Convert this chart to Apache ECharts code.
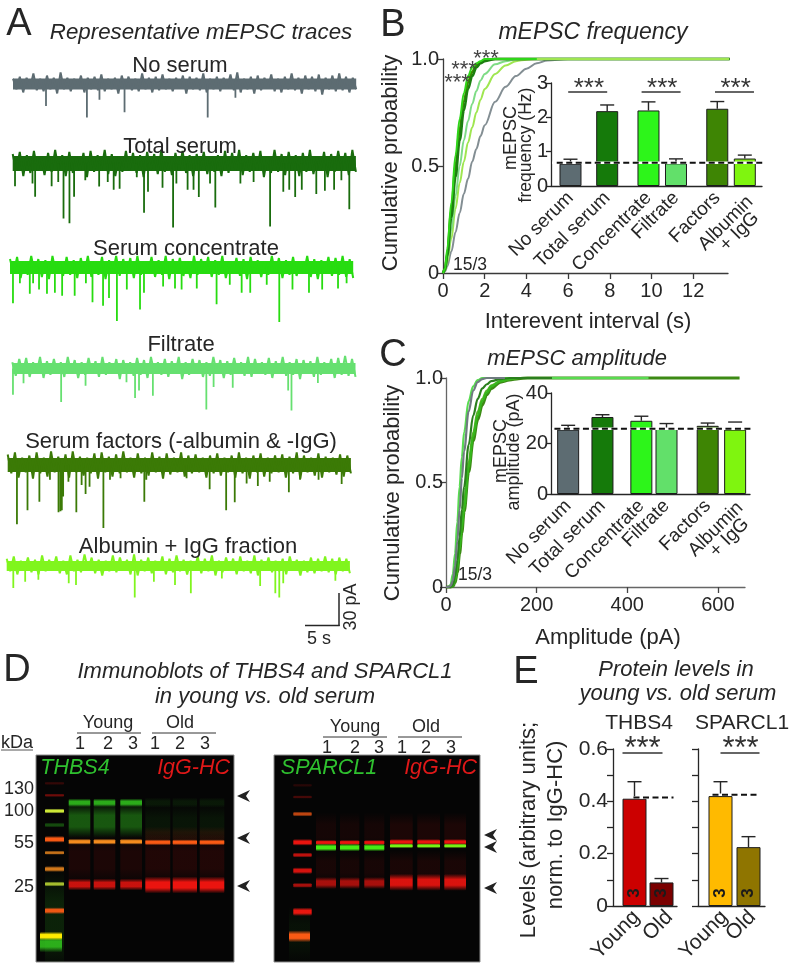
<!DOCTYPE html>
<html><head><meta charset="utf-8">
<style>html,body{margin:0;padding:0;background:#fff}#c{width:796px;height:968px}</style>
<script src="https://cdn.jsdelivr.net/npm/echarts@6/dist/echarts.min.js"></script>
</head><body><div id="c"></div>
<script>
// ---------- Panel A: trace noise (pA), alternating peak / trough
const noiseNoSerum=[5,-5,7,-8,6,-4,10,-6,5,-7,8,-5,6,-9,11,-5,6,-7,5,-4,8,-8,6,-5,7,-6,9,-7,5,-5,6,-9,8,-4,7,-6,5,-7,10,-5,6,-8,7,-6,9,-5,5,-7,6,-4,8,-9,7,-5,6,-6,10,-8,5,-5,7,-7,6,-4,9,-6,11,-8,5,-5,7,-9,8,-6,6,-4,9,-7,5,-8,7,-5,10,-6,6,-9,8,-5,7,-7,9,-10,6,-5,8,-7,10,-6,7,-8,6,-5];
const noiseTotal=[9,-7,11,-12,8,-9,12,-7,7,-11,10,-8,13,-7,8,-12,11,-9,7,-7,10,-13,12,-8,8,-7,13,-10,9,-12,7,-8,12,-7,10,-9,8,-13,11,-7,9,-10,13,-8,7,-11,10,-7,12,-9,8,-12,9,-7,11,-10,7,-8,8,-12,12,-9,10,-7,13,-11,8,-8,10,-7,12,-13,7,-9,13,-8,9,-11,11,-7,8,-12,10,-8,13,-10,7,-7,11,-13,9,-8,12,-7,10,-11,13,-8];
const noiseConcentrate=[8,-6,10,-10,6,-7,11,-6,8,-9,7,-11,11,-6,6,-8,10,-7,7,-10,9,-6,11,-9,6,-7,10,-11,7,-6,11,-8,8,-6,9,-10,11,-7,6,-6,10,-9,7,-7,11,-11,8,-6,9,-8,6,-10,11,-7,8,-6,10,-9,7,-7,11,-10,6,-6,9,-8,8,-11,10,-6,7,-9,6,-7,11,-6,9,-10,7,-7,10,-8,6,-6,11,-9,8,-11,7,-6,10,-8,9,-7,11,-9,8,-10];
const noiseFiltrate=[6,-7,9,-5,10,-8,6,-5,11,-9,7,-6,9,-5,6,-8,11,-5,8,-9,6,-6,10,-5,7,-8,11,-6,6,-5,9,-10,8,-5,6,-7,10,-6,8,-9,11,-5,6,-6,9,-8,7,-5,11,-10,6,-6,9,-5,8,-8,6,-7,11,-5,8,-9,7,-6,10,-5,6,-7,11,-8,9,-5,6,-6,10,-9,7,-5,11,-7,6,-6,9,-10,8,-5,7,-8,11,-6,6,-5,9,-9,10,-6,12,-7,9,-8];
const noiseFactors=[10,-8,12,-12,7,-7,9,-13,12,-8,7,-11,13,-7,8,-9,10,-12,13,-7,8,-10,7,-8,11,-13,12,-7,8,-11,10,-8,13,-7,7,-12,11,-8,7,-10,12,-7,8,-13,11,-9,7,-7,12,-11,9,-8,10,-7,7,-12,9,-8,11,-10,7,-7,9,-12,12,-8,7,-13,9,-7,11,-11,7,-8,9,-7,10,-12,8,-8,12,-13,9,-7,7,-10,11,-12,8,-7,7,-9,10,-11,9,-8];
const noiseAlbumin=[7,-5,9,-8,5,-4,8,-6,6,-8,10,-5,6,-4,9,-7,5,-8,10,-5,6,-6,11,-4,8,-7,6,-9,5,-5,10,-6,8,-4,6,-8,11,-9,6,-5,8,-7,5,-4,9,-8,7,-6,10,-5,6,-8,5,-4,9,-7,7,-5,10,-9,5,-6,8,-4,7,-8,9,-5,5,-7,10,-9,6,-4,8,-6,5,-5,7,-8,9,-4,6,-9,5,-6,8,-7,7,-5,9,-6,7,-8,8,-5,7,-7];

// Panel A: synaptic events, [time (s), amplitude (pA)]
const eventsNoSerum=[[5,21],[11.2,32],[13.1,15],[16.9,27],[29.5,32],[33.7,13]];
const eventsTotal=[[.35,21.6],[3,19],[3.4,31.7],[5.9,21.6],[6.9,17.5],[7.7,52.4],[8.6,57],[9.3,31.7],[11,16],[13.1,22],[14.4,17.5],[15.3,25],[16.2,24],[18.8,13],[19.9,47],[20.5,27],[22.7,23],[24.3,61],[24.8,19],[26.5,25],[27.4,25],[28.2,32],[29.9,19],[30.7,42],[34.5,19],[36.5,17.5],[39,60],[41,27],[41.9,25],[42.8,32],[43.8,25],[46,29],[47.3,26],[48.7,25],[49.8,16],[51,43.5]];
const eventsConcentrate=[[.45,34],[1.5,15],[3,25],[3.5,15],[4.4,21],[5.6,25],[6.8,24],[7.9,27],[9.8,27],[11.5,15],[12.5,33],[14.1,36.5],[15,29],[16.2,51],[17.7,21],[19.7,40],[20.3,24],[23.2,18],[25,20],[26,21],[28.3,20],[31.3,35],[33.3,16.5],[35.1,24],[36.4,24],[38.9,16.5],[40.8,52],[42.8,21],[45.3,24],[47.3,21],[49.7,20],[51,15]];
const eventsFiltrate=[[.1,25],[1.7,14],[7.4,32],[11.1,16.5],[17.3,13],[18.6,28],[19.2,21],[21.3,26],[29.4,39],[30.5,17.5],[33.4,18.4],[41.8,21],[42.3,40],[46.3,13.7]];
const eventsFactors=[[1.4,56.5],[3,43],[4.8,35],[6.4,14],[7.7,45],[8,44],[8.2,43],[8.4,30],[9.2,16],[10.4,45],[11.2,19],[11.8,27.6],[12.4,20.6],[14.5,60],[15.5,14],[17.1,12.7],[20.7,35],[21,14],[27.1,12.7],[30.6,23],[33.1,43],[34.4,35.5],[36.2,17.5],[37.9,20],[39.7,16],[42.6,26],[44.3,14],[47.1,14],[50.6,18]];
const eventsAlbumin=[[1,21],[2.8,15],[4.8,13],[9.4,16.5],[10.5,18],[19.4,30],[22.3,15],[25.5,18],[27.9,26],[32.6,12],[38.4,19],[40.7,26],[41.3,30],[41.9,16.5],[49.8,14]];
const traceTitles=['No serum','Total serum','Serum concentrate','Filtrate','Serum factors (-albumin & -IgG)','Albumin + IgG fraction'];

// ---------- Panel B: cumulative interevent interval
const intervalS=[0,.1,.2,.4,.6,.8,1,1.2,1.4,1.6,1.8,2,2.5,3,3.5,4,4.5,5,6,13.75];
const cdfFreqNoSerum=[0,.008,.03,.1,.19,.28,.37,.44,.52,.58,.64,.69,.8,.87,.92,.955,.98,.993,1,1];
const cdfFreqTotal=[0,.015,.08,.26,.45,.62,.76,.86,.92,.96,.98,.99,1,1,1,1,1,1,1,1];
const cdfFreqConcentrate=[0,.02,.11,.33,.55,.72,.84,.92,.96,.98,.99,1,1,1,1,1,1,1,1,1];
const cdfFreqFiltrate=[0,.015,.06,.2,.36,.5,.62,.71,.79,.85,.9,.93,.975,.99,.998,1,1,1,1,1];
const cdfFreqFactors=[0,.02,.09,.29,.5,.67,.8,.89,.94,.97,.985,.995,1,1,1,1,1,1,1,1];
const cdfFreqAlbumin=[0,.012,.05,.16,.3,.42,.52,.61,.68,.75,.81,.86,.93,.97,.99,.997,1,1,1,1];
const barNames=['No serum','Total serum','Concentrate','Filtrate','Factors'];
const lastBarName=['Albumin','+ IgG'];
const freqHz=[.65,2.18,2.2,.66,2.25,.8];
const freqErrTop=[.78,2.36,2.45,.79,2.46,.9];
const freqBaseline=.68;

// ---------- Panel C: cumulative amplitude
const amplitudePA=[0,5,10,15,20,25,30,35,40,50,60,70,80,90,100,120,140,160,180];
const cdfAmpNoSerum=[0,0,.005,.03,.1,.22,.37,.52,.65,.84,.94,.98,.995,1];
const cdfAmpTotal=[0,0,0,.01,.05,.13,.24,.37,.48,.68,.82,.9,.95,.97,.985,.995,1];
const cdfAmpConcentrate=[0,0,0,.005,.03,.09,.18,.28,.38,.57,.72,.82,.89,.93,.96,.985,.995,1];
const cdfAmpFiltrate=[0,0,.01,.06,.16,.31,.48,.62,.74,.89,.96,.99,1];
const cdfAmpFactors=[0,0,0,.003,.02,.07,.16,.26,.36,.55,.7,.8,.87,.92,.95,.98,.99,.997,1];
const cdfAmpAlbumin=[0,0,0,.01,.04,.1,.2,.3,.41,.6,.74,.84,.9,.94,.965,.985,.995,1];
const ampMaxPA={noSerum:130,total:234,concentrate:300,filtrate:447,factors:648,albumin:200};
const ampPA=[25.5,30.5,29,26,27,25.5];
const ampErrTop=[27.2,31.4,30.8,27.9,28.1,28.5];
const ampBaseline=25.8;

// ---------- Panel E
const protGroups=['Young','Old'];
const thbs4Levels=[.41,.09];
const thbs4ErrTop=[.475,.105];
const thbs4Baseline=.415;
const sparcl1Levels=[.42,.225];
const sparcl1ErrTop=[.475,.265];
const sparcl1Baseline=.425;
const nPerBar='3';

// ---------- Panel D: gel lanes (gel units) and bands: [migration, thickness, channel, intensity]
const thbsLadderLane=[9,28], thbsWideLane=[4,26], thbsLanes=[[32.7,54.3],[57.7,79.3],[84.3,106],[109.3,134.3],[136.7,161],[163.7,188.3]];
const thbsLadder=[[165,60,'g',.15],[28.3,2,'r',.2],[40.3,2,'r',.45],[56,3,'y',1],[70,3,'g',.35],[84.3,4,'ro',1],[97.7,2.5,'o',.8],[114,3.5,'o',.85],[129,3,'y',.8],[155.7,4,'ro',.95]];
const thbsLadderWide=[[189,10,'g',.85],[181,5,'ye',1]];
const thbsYoung=[[105,30,'r',.1],[66,20,'g',.42],[47.7,5,'g',.85],[86.7,3.5,'o',1],[129.5,7,'r',.85]];
const thbsOld=[[105,30,'r',.12],[70,24,'g',.08],[80,10,'r',.1],[47.7,6,'g',.1],[87.3,3.5,'ro',1],[130,10,'r',1]];
const sparcLadderLane=[19.3,37.7], sparcWideLane=[15,36], sparcLanes=[[42,62],[66,85.3],[90.3,110.3],[116,138.7],[143.3,166],[170.3,192]];
const sparcLadder=[[30.3,2,'r',.15],[42,2,'r',.28],[59,3,'ro',.75],[87.3,4,'r',1],[100,3,'r',.8],[115.7,4,'r',.9],[130.3,3,'r',.7],[156.7,5,'r',1]];
const sparcLadderWide=[[180,34,'g',.06],[181.3,7,'ro',1]];
const sparcYoung=[[76,22,'r',.07],[112,20,'r',.08],[87.5,3,'r',1],[92.5,4.5,'g2',1],[128,7,'r',.7]];
const sparcOld=[[76,22,'r',.1],[112,20,'r',.09],[87,3.5,'r',1],[90.8,2.8,'y2',1],[127.3,10,'r',.92]];

// ---------- styles
const FONT='"Liberation Sans",Arial,sans-serif';
const INK='#262626';
const gelRGB={g:[50,200,30],g2:[70,235,20],r:[235,20,15],o:[245,140,30],ro:[250,90,20],y:[205,232,55],y2:[120,240,20],ye:[255,235,0]};
const barColors=['#5d6c72','#157a0a','#2df51a','#62e06a','#3e8504','#7ff50f'];
const grids=[],xAxes=[],yAxes=[],series=[],gfx=[];

function addGrid(l,t,w,h,xa,ya,extra){
  grids.push(Object.assign({left:l,top:t,width:w,height:h,containLabel:false},extra||{}));
  const i=grids.length-1;
  xAxes.push(Object.assign({gridIndex:i,splitLine:{show:false}},xa));
  yAxes.push(Object.assign({gridIndex:i,splitLine:{show:false}},ya));
  return i;
}
const hidden={show:false,axisLine:{show:false},axisTick:{show:false},axisLabel:{show:false}};
function text(x,y,s,o){o=o||{};const r=o.rot||0;
  gfx.push({type:'text',x:x+(r===Math.PI/2?1:0),y:y+(r?0:1),rotation:r,z:100,style:{text:s,fill:o.color||INK,
    font:(o.italic?'italic ':'')+(o.size||22)+'px '+FONT,align:o.align||'center',verticalAlign:'middle',
    textAlign:o.align||'center',textVerticalAlign:'middle'}});
}
function line(x1,y1,x2,y2,w,c){gfx.push({type:'line',z:100,shape:{x1,y1,x2,y2},style:{stroke:c||INK,lineWidth:w||1.2}});}
function arrow(x,y){gfx.push({type:'polygon',z:100,shape:{points:[[x,y],[x+13,y-6],[x+9,y],[x+13,y+6]]},style:{fill:'#222'}});}

// ---------- Panel A
const traces=[
 [noiseNoSerum,eventsNoSerum,'#5d6c72',13,84,11],
 [noiseTotal,eventsTotal,'#196c0d',12.7,163.5,15],
 [noiseConcentrate,eventsConcentrate,'#27dc10',10,267.5,13],
 [noiseFiltrate,eventsFiltrate,'#66e070',12.3,368.5,11],
 [noiseFactors,eventsFactors,'#3b7a06',7.7,465,14],
 [noiseAlbumin,eventsAlbumin,'#80f51e',6.7,566,10]
];
const PXPA=1.05,PXS=6.6;
traces.forEach(tr=>{
  const g=addGrid(tr[3],tr[4]-15*PXPA,52*PXS,80*PXPA,
    Object.assign({type:'value',min:0,max:52},hidden),Object.assign({type:'value',min:-65,max:15},hidden));
  const dt=52/(tr[0].length-1);
  series.push({type:'line',xAxisIndex:g,yAxisIndex:g,showSymbol:false,animation:false,silent:true,clip:false,
    data:[[0,0],[52,0]],lineStyle:{color:tr[2],width:tr[5]}});
  series.push({type:'line',xAxisIndex:g,yAxisIndex:g,showSymbol:false,animation:false,silent:true,clip:false,
    data:tr[0].map((v,i)=>[i*dt,v]),lineStyle:{color:tr[2],width:2,join:'bevel'}});
  series.push({type:'line',xAxisIndex:g,yAxisIndex:g,showSymbol:false,animation:false,silent:true,clip:false,connectNulls:false,
    data:tr[1].reduce((a,e)=>a.concat([[e[0],0],[e[0],-e[1]],[null,null]]),[]),lineStyle:{color:tr[2],width:1.8}});
});
[[180,65],[180,146],[186,248],[181,344],[181,441],[188,546]].forEach((p,i)=>text(p[0],p[1],traceTitles[i]));
text(201,32,'Representative mEPSC traces',{italic:true,size:22.3});
line(339,593,339,626,1.5);line(305,625.5,339.7,625.5,1.5);
text(319,638,'5 s',{size:18});text(350,607,'30 pA',{size:18,rot:Math.PI/2});

// ---------- helpers for bar insets
function slotted(vals,slots,n){const a=new Array(n).fill(null);slots.forEach((s,i)=>a[s]=vals[i]);return a;}
function segSeries(g,segs,style,z){ // segs: [slotA, slotB, y]
  series.push({type:'custom',xAxisIndex:g,yAxisIndex:g,animation:false,silent:true,z:z||5,clip:false,
    data:segs.map((s,i)=>[i]),encode:{x:[],y:[]},
    renderItem:(p,api)=>{const s=segs[p.dataIndex],a=api.coord([s[0],s[2]]),b=api.coord([s[1],s[2]]);
      return {type:'line',shape:{x1:a[0],y1:a[1],x2:b[0],y2:b[1]},style:Object.assign({stroke:INK,lineWidth:1.5,fill:null},style)};}});
}
function errSeries(g,slots,vals,tops,capPx,noStem){
  series.push({type:'custom',xAxisIndex:g,yAxisIndex:g,animation:false,silent:true,z:4,clip:false,
    data:slots.map((s,i)=>[i]),encode:{x:[],y:[]},
    renderItem:(p,api)=>{const i=p.dataIndex,a=api.coord([slots[i],vals[i]]),b=api.coord([slots[i],tops[i]]);
      const st={stroke:INK,lineWidth:1.4,fill:null},ch=[{type:'line',shape:{x1:b[0]-capPx/2,y1:b[1],x2:b[0]+capPx/2,y2:b[1]},style:st}];
      if(!(noStem&&noStem[i]))ch.push({type:'line',shape:{x1:a[0],y1:a[1],x2:b[0],y2:b[1]},style:st});
      return {type:'group',children:ch};}});
}
function starSeries(g,segs,size,dy){
  series.push({type:'custom',xAxisIndex:g,yAxisIndex:g,animation:false,silent:true,z:6,clip:false,
    data:segs.map((s,i)=>[i]),encode:{x:[],y:[]},
    renderItem:(p,api)=>{const s=segs[p.dataIndex],a=api.coord([(s[0]+s[1])/2,s[2]]);
      return {type:'text',style:{text:'***',x:a[0],y:a[1]+dy,fill:'#333',font:size+'px '+FONT,align:'center',verticalAlign:'middle'}};}});
}
function inset(l,t,w,h,n,slots,vals,ymax,yint,barW,labelSize,margin){
  const g=addGrid(l,t,w,h,
    {type:'category',data:slotted(barNames,slots.slice(0,5),n).map(v=>v===null?'':v),axisTick:{show:false},
     axisLine:{show:true,lineStyle:{color:INK,width:1.3}},
     axisLabel:{interval:0,rotate:45,margin:margin,color:INK,fontFamily:FONT,fontSize:labelSize,hideOverlap:false}},
    {type:'value',min:0,max:ymax,interval:yint,axisLine:{show:true,lineStyle:{color:INK,width:1.3}},
     axisTick:{show:true,length:5,lineStyle:{color:INK,width:1.3}},axisLabel:{margin:3,color:INK,fontFamily:FONT,fontSize:20}});
  const d=new Array(n).fill(null);
  slots.forEach((s,i)=>d[s]={value:vals[i],itemStyle:{color:barColors[i],borderColor:'#1c1c1c',borderWidth:1}});
  series.push({type:'bar',xAxisIndex:g,yAxisIndex:g,animation:false,silent:true,barWidth:barW,z:3,data:d});
  return g;
}

// ---------- Panel B
const gB=addGrid(443,59,285,214,
  {type:'value',min:0,max:13.67,axisLine:{show:true,lineStyle:{color:'#3a3a3a',width:1.3}},
   axisTick:{show:true,length:6,customValues:[0,2,4,6,8,10,12],lineStyle:{color:'#3a3a3a',width:1.3}},
   axisLabel:{customValues:[0,2,4,6,8,10,12],margin:8,color:INK,fontFamily:FONT,fontSize:20}},
  {type:'value',min:0,max:1,interval:.5,axisLine:{show:true,lineStyle:{color:'#3a3a3a',width:1.3}},
   axisTick:{show:true,length:6,lineStyle:{color:'#3a3a3a',width:1.3}},
   axisLabel:{margin:4,color:INK,fontFamily:FONT,fontSize:20,formatter:v=>v===0?'0':v.toFixed(1)}});
[[cdfFreqNoSerum,'#838e93',2],[cdfFreqAlbumin,'#9fe650',2],[cdfFreqFiltrate,'#7fdc86',2],[cdfFreqFactors,'#3d8a00',2.6],[cdfFreqTotal,'#1c7f10',2.6],[cdfFreqConcentrate,'#2fd61a',2]].forEach(c=>{
  series.push({type:'line',xAxisIndex:gB,yAxisIndex:gB,showSymbol:false,smooth:.35,smoothMonotone:'x',animation:false,silent:true,clip:false,z:2,
    data:intervalS.map((x,i)=>[x,c[0][i]]),lineStyle:{color:c[1],width:c[2]}});
});
// light line on top along the plateau
series.push({type:'line',xAxisIndex:gB,yAxisIndex:gB,showSymbol:false,animation:false,silent:true,clip:false,z:2,
  data:intervalS.map((x,i)=>[x,cdfFreqAlbumin[i]]).filter(d=>d[1]===1),lineStyle:{color:'#9fe650',width:2}});
const slotsB=[8,24,42,54,72,84];
const gBi=inset(551,83,211,103,92,slotsB,freqHz,3,1,22,19,9);
errSeries(gBi,slotsB,freqHz,freqErrTop,14);
segSeries(gBi,[[0,91,freqBaseline]],{stroke:'#fff',lineWidth:2.5},6);
segSeries(gBi,[[2,92,freqBaseline]],{stroke:'#111',lineWidth:2,lineDash:[6,3.5]},7);
const sigB=[[7,24,2.74],[39,56,2.74],[71,88,2.74]];
segSeries(gBi,sigB,{stroke:'#333',lineWidth:1.4},6);
starSeries(gBi,sigB,26,-3);
text(593,32,'mEPSC frequency',{italic:true,size:23});
text(390,163,'Cumulative probability',{size:22,rot:Math.PI/2});
text(588,321,'Interevent interval (s)',{size:22});
text(510,138,'mEPSC',{size:18,rot:Math.PI/2});
text(525,145,'frequency (Hz)',{size:17.5,rot:Math.PI/2});
text(470,264,'15/3',{size:17.5});
text(486,58,'***',{size:22,color:'#444'});text(464,69,'***',{size:22,color:'#444'});text(457,82,'***',{size:22,color:'#444'});
text(750,199,lastBarName[0],{size:19,rot:Math.PI/4,align:'right'});
text(756,215,lastBarName[1],{size:19,rot:Math.PI/4,align:'right'});

// ---------- Panel C
const gC=addGrid(446,378,299,209,
  {type:'value',min:0,max:660,axisLine:{show:true,lineStyle:{color:'#666',width:1.3}},
   axisTick:{show:true,length:6,customValues:[0,200,400,600],lineStyle:{color:'#444',width:1.3}},
   axisLabel:{customValues:[0,200,400,600],margin:8,color:INK,fontFamily:FONT,fontSize:20}},
  {type:'value',min:0,max:1,interval:.5,axisLine:{show:true,lineStyle:{color:'#666',width:1.3}},
   axisTick:{show:true,length:6,lineStyle:{color:'#444',width:1.3}},
   axisLabel:{margin:3,color:INK,fontFamily:FONT,fontSize:20,formatter:v=>v===0?'0':v.toFixed(1)}});
[[cdfAmpFactors,'#3c8a14',ampMaxPA.factors,3],[cdfAmpAlbumin,'#58b428',ampMaxPA.albumin,2.2],[cdfAmpConcentrate,'#35b71c',ampMaxPA.concentrate,2.2],[cdfAmpFiltrate,'#58dc50',ampMaxPA.filtrate,2.2],[cdfAmpTotal,'#2b7f1e',ampMaxPA.total,2.2],[cdfAmpNoSerum,'#6f7b80',ampMaxPA.noSerum,2.2]].forEach(c=>{
  const d=c[0].map((y,i)=>[amplitudePA[i],y]);d.push([c[2],1]);
  series.push({type:'line',xAxisIndex:gC,yAxisIndex:gC,showSymbol:false,smooth:.35,smoothMonotone:'x',animation:false,silent:true,clip:false,z:2,
    data:d,lineStyle:{color:c[1],width:c[3]}});
});
const slotsC=[7,22,39,50,68,80];
const gCi=inset(551,393,199,101,87,slotsC,ampPA,40,20,22,19,9);
errSeries(gCi,slotsC,ampPA,ampErrTop,14,[0,0,0,0,0,1]);
segSeries(gCi,[[0,86,ampBaseline]],{stroke:'#fff',lineWidth:2.5},6);
segSeries(gCi,[[1,88,ampBaseline]],{stroke:'#111',lineWidth:2,lineDash:[6,3.5]},7);
text(577,358,'mEPSC amplitude',{italic:true,size:22});
text(392,493,'Cumulative probability',{size:22,rot:Math.PI/2});
text(608,637,'Amplitude (pA)',{size:22});
text(500,451,'mEPSC',{size:18,rot:Math.PI/2});
text(513,452,'amplitude (pA)',{size:18,rot:Math.PI/2});
text(475,574,'15/3',{size:17.5});
text(740,505,lastBarName[0],{size:19,rot:Math.PI/4,align:'right'});
text(746,521,lastBarName[1],{size:19,rot:Math.PI/4,align:'right'});

// ---------- Panel D
function bandRows(lane,list){return list.map(b=>[lane[0],lane[1],b[0],b[1],b[2],b[3]]);}
function gel(l,t,w,h,rows){
  const g=addGrid(l,t,w,h,Object.assign({type:'value',min:0,max:w},hidden),Object.assign({type:'value',min:0,max:h,inverse:true},hidden),
    {show:true,backgroundColor:'#050505',borderColor:'#8c8c8c',borderWidth:1});
  series.push({type:'custom',xAxisIndex:g,yAxisIndex:g,animation:false,silent:true,z:3,clip:true,
    data:rows.map((r,i)=>[i]),encode:{x:[],y:[]},
    renderItem:(p,api)=>{const r=rows[p.dataIndex],c=gelRGB[r[4]],hh=r[3]*.85;
      const a=api.coord([r[0],r[2]-hh]),b=api.coord([r[1],r[2]+hh]);
      const rgb=c.join(',');
      return {type:'rect',shape:{x:a[0],y:a[1],width:b[0]-a[0],height:b[1]-a[1],r:1.5},
        style:{opacity:r[5],fill:new echarts.graphic.LinearGradient(0,0,0,1,[
          {offset:0,color:'rgba('+rgb+',0)'},{offset:.33,color:'rgba('+rgb+',1)'},{offset:.67,color:'rgba('+rgb+',1)'},{offset:1,color:'rgba('+rgb+',0)'}])}};}});
}
let rowsT=bandRows(thbsLadderLane,thbsLadder).concat(bandRows(thbsWideLane,thbsLadderWide));
thbsLanes.forEach((ln,i)=>{rowsT=rowsT.concat(bandRows(ln,i<3?thbsYoung:thbsOld));});
gel(36,755,198,207,rowsT);
let rowsS=bandRows(sparcLadderLane,sparcLadder).concat(bandRows(sparcWideLane,sparcLadderWide));
sparcLanes.forEach((ln,i)=>{rowsS=rowsS.concat(bandRows(ln,i<3?sparcYoung:sparcOld));});
gel(274,755,206,207,rowsS);
text(265,671,'Immunoblots of THBS4 and SPARCL1',{italic:true,size:22});
text(265,696,'in young vs. old serum',{italic:true,size:22});
text(17,742,'kDa',{size:18});line(1,750,33,750,1,'#555');
[['130',788],['100',810],['55',842],['25',886]].forEach(m=>text(34,m[1],m[0],{size:18,align:'right'}));
function laneHead(yc,yl,yn,ox,x1,x2,x3,x4,nums){
  text(yc,yl,'Young',{size:18});line(x1,yl+11,x2,yl+11,1,'#333');
  text(ox,yl,'Old',{size:18});line(x3,yl+11,x4,yl+11,1,'#333');
  nums.forEach((n,i)=>text(n,yn,String(i%3+1),{size:18}));
}
laneHead(108,722,743,180,77,141,152,216,[80,108,133,155,180,205]);
laneHead(355,726,747,426,323,387,398,462,[327,355,379,402,426,451]);
text(75,767,'THBS4',{italic:true,size:21.5,color:'#2fc12f'});
text(230,767,'IgG-HC',{italic:true,size:21.5,color:'#e01818',align:'right'});
text(329,767,'SPARCL1',{italic:true,size:21.5,color:'#2fc12f'});
text(477,767,'IgG-HC',{italic:true,size:21.5,color:'#e01818',align:'right'});
[796,838,886].forEach(y=>arrow(237,y));
[835,847,888].forEach(y=>arrow(484,y));

// ---------- Panel E
function protPanel(l,w,slots,labelSlots,vals,tops,base,dash,sig,showLabels,cols){
  const n=w;
  const g=addGrid(l,749,w,157,
    {type:'category',data:slotted(protGroups,labelSlots,n).map(v=>v===null?'':v),axisTick:{show:false},
     axisLine:{show:true,lineStyle:{color:INK,width:1.3}},
     axisLabel:{interval:0,rotate:45,margin:8,color:INK,fontFamily:FONT,fontSize:21,hideOverlap:false}},
    {type:'value',min:0,max:.6,interval:.2,axisLine:{show:true,lineStyle:{color:INK,width:1.3}},
     axisTick:{show:true,length:6,lineStyle:{color:INK,width:1.3}},
     minorTick:{show:true,splitNumber:2,length:6,lineStyle:{color:INK,width:1.3}},
     axisLabel:{show:showLabels,margin:5,color:INK,fontFamily:FONT,fontSize:21,formatter:v=>v===0?'0':v.toFixed(1)}});
  const d=new Array(n).fill(null);
  slots.forEach((s,i)=>d[s]={value:vals[i],itemStyle:{color:cols[i],borderColor:'#1c1c1c',borderWidth:1}});
  series.push({type:'bar',xAxisIndex:g,yAxisIndex:g,animation:false,silent:true,barWidth:24,z:3,data:d});
  errSeries(g,slots,vals,tops,14);
  segSeries(g,[[dash[0],dash[1],base]],{stroke:'#fff',lineWidth:2.5},6);
  segSeries(g,[[dash[0],dash[1],base]],{stroke:'#111',lineWidth:2,lineDash:[6,3.5]},7);
  segSeries(g,[sig],{stroke:'#333',lineWidth:1.5},6);
  starSeries(g,[sig],31,-3);
  series.push({type:'custom',xAxisIndex:g,yAxisIndex:g,animation:false,silent:true,z:6,clip:false,
    data:slots.map((s,i)=>[i]),encode:{x:[],y:[]},
    renderItem:(p,api)=>{const a=api.coord([slots[p.dataIndex],0]);
      return {type:'text',x:a[0],y:a[1]-13,rotation:Math.PI/2,style:{text:nPerBar,x:0,y:0,fill:'#1a1a1a',font:'bold 17px '+FONT,align:'center',verticalAlign:'middle'}};}});
}
protPanel(613,64,[21,48],[23,56],thbs4Levels,thbs4ErrTop,thbs4Baseline,[20,60],[9,49,.585],true,['#cc0000','#7a0000']);
protPanel(698,67,[22,50],[26,54],sparcl1Levels,sparcl1ErrTop,sparcl1Baseline,[14,58],[22,61,.585],false,['#ffba00','#8f7500']);
text(676,669,'Protein levels in',{italic:true,size:22});
text(678,693,'young vs. old serum',{italic:true,size:22});
text(639,722,'THBS4',{size:21});text(742,722,'SPARCL1',{size:21});
text(528,830,'Levels (arbitrary units;',{size:22,rot:Math.PI/2});
text(555,825,'norm. to IgG-HC)',{size:22,rot:Math.PI/2});

// panel letters
[['A',19,24],['B',393,25],['C',393,355],['D',17,670],['E',526,672]].forEach(p=>text(p[1],p[2],p[0],{size:38}));

const chart=echarts.init(document.getElementById('c'),null,{renderer:'canvas'});
chart.setOption({animation:false,backgroundColor:'#fff',grid:grids,xAxis:xAxes,yAxis:yAxes,series:series,graphic:{elements:gfx}});
</script></body></html>
